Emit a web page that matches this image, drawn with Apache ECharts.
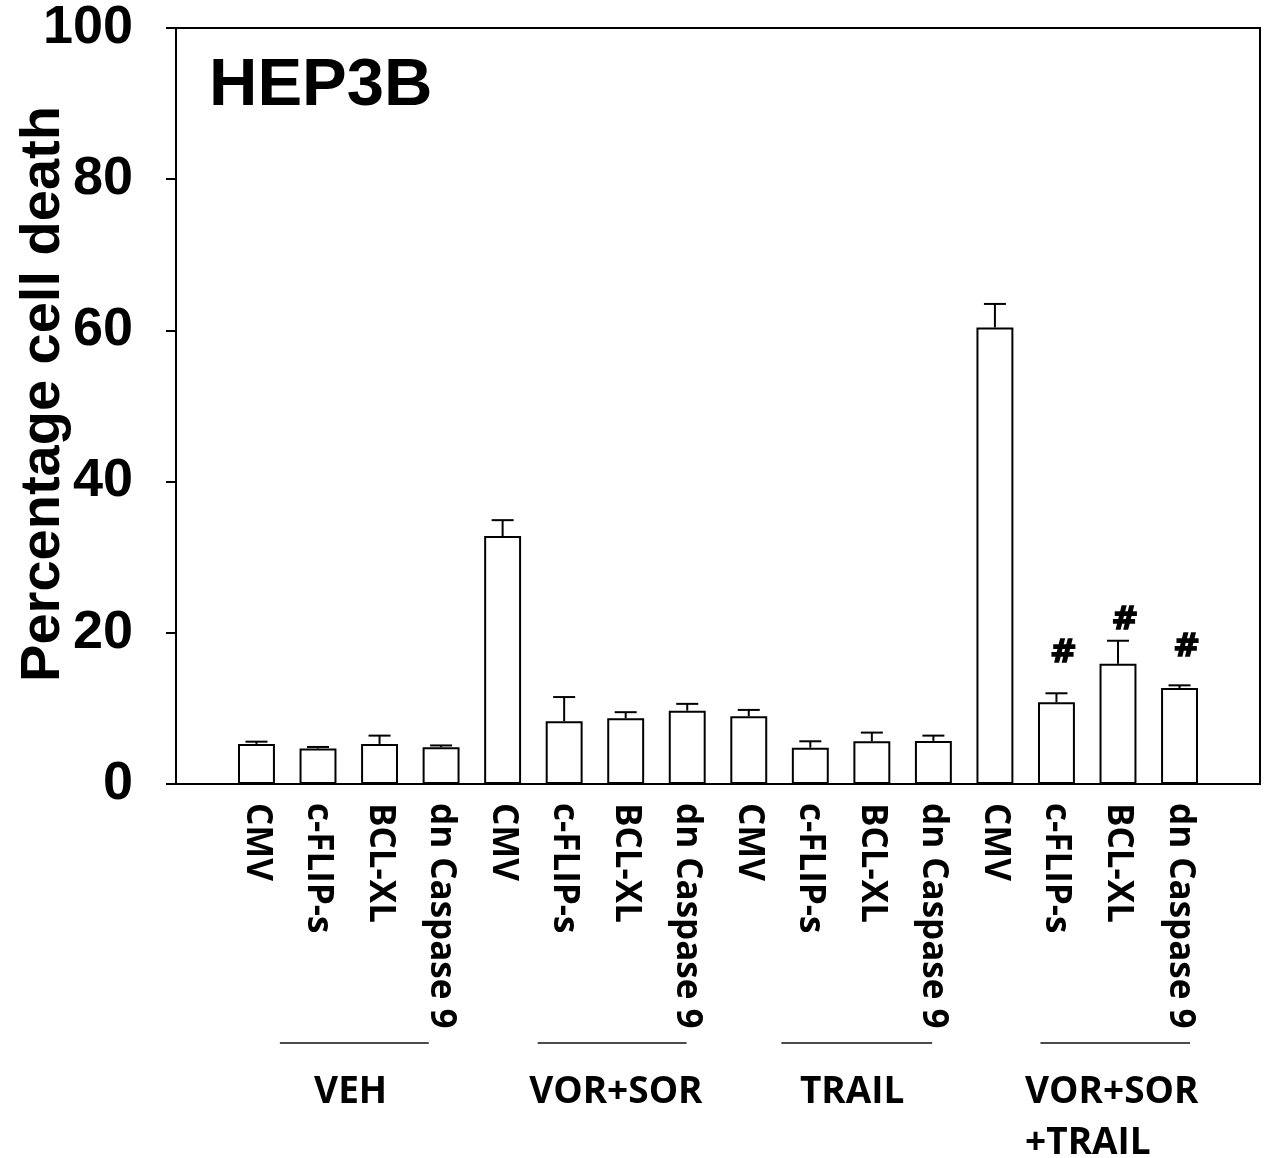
<!DOCTYPE html>
<html>
<head>
<meta charset="utf-8">
<title>HEP3B cell death</title>
<script src="https://cdn.jsdelivr.net/npm/echarts@6/dist/echarts.min.js"></script>
<style>
  html, body { margin: 0; padding: 0; background: #fff; }
  #chart { width: 1274px; height: 1158px; }
</style>
</head>
<body>
<div id="chart"></div>
<script>
// Constructs expressed in each treatment group
const categories = [
  'CMV', 'c-FLIP-s', 'BCL-XL', 'dn Caspase 9',
  'CMV', 'c-FLIP-s', 'BCL-XL', 'dn Caspase 9',
  'CMV', 'c-FLIP-s', 'BCL-XL', 'dn Caspase 9',
  'CMV', 'c-FLIP-s', 'BCL-XL', 'dn Caspase 9'
];
// Mean percentage of cell death
const meanDeath = [5.3, 4.7, 5.3, 4.85, 32.8, 8.3, 8.7, 9.7, 8.95, 4.8, 5.65, 5.7, 60.4, 10.8, 15.9, 12.7];
// Upper error (SEM)
const errDeath = [0.3, 0.2, 1.1, 0.25, 2.1, 3.2, 0.8, 0.9, 0.85, 0.85, 1.15, 0.7, 3.1, 1.2, 3.05, 0.35];
// Treatment groups
const groupNames = ['VEH', 'VOR+SOR', 'TRAIL', 'VOR+SOR\n+TRAIL'];
// Significance markers (#): bar index and height of the symbol
const sigIndex = [13, 14, 15];
const sigLevel = [17.3, 21.6, 18.05];
// Y axis ticks
const yTicks = [0, 20, 40, 60, 80, 100];

const chart = echarts.init(document.getElementById('chart'), null, { renderer: 'canvas' });

const option = {
  animation: false,
  backgroundColor: '#ffffff',
  title: {
    text: 'HEP3B',
    left: 204,
    top: 48,
    textStyle: { fontFamily: 'Liberation Sans', fontWeight: 'bold', fontSize: 67, color: '#000' }
  },
  grid: [
    { left: 225.7, right: 63.7, top: 28, bottom: 374, outerBoundsMode: 'none', containLabel: false },
    { left: 176, right: 14, top: 28, bottom: 374, outerBoundsMode: 'none', containLabel: false,
      show: true, borderColor: '#000', borderWidth: 2, backgroundColor: 'transparent' }
  ],
  xAxis: [
    {
      gridIndex: 0,
      type: 'category',
      data: categories,
      axisLine: { show: false },
      axisTick: { show: false },
      axisLabel: {
        interval: 0,
        rotate: -90,
        margin: 19,
        fontFamily: 'Open Sans',
        fontWeight: 'bold',
        fontSize: 35,
        color: '#000'
      }
    },
    { gridIndex: 1, type: 'value', min: 0, max: 1, show: false }
  ],
  yAxis: [
    { gridIndex: 0, type: 'value', min: 0, max: 100, show: false },
    {
      gridIndex: 1,
      type: 'value',
      min: yTicks[0],
      max: yTicks[yTicks.length - 1],
      interval: 20,
      name: 'Percentage cell death',
      nameLocation: 'middle',
      nameRotate: 90,
      nameGap: 104,
      nameMoveOverlap: false,
      nameTextStyle: {
        fontFamily: 'Liberation Sans', fontWeight: 'bold', fontSize: 56, color: '#000',
        padding: [0, 0, 0, 24]
      },
      axisLine: { show: true, lineStyle: { color: '#000', width: 2 } },
      axisTick: { show: true, inside: false, length: 10, lineStyle: { color: '#000', width: 2 } },
      axisLabel: { margin: 43, fontFamily: 'Liberation Sans', fontWeight: 'bold', fontSize: 54, color: '#000' },
      splitLine: { show: false }
    }
  ],
  series: [
    {
      type: 'bar',
      xAxisIndex: 0,
      yAxisIndex: 0,
      data: meanDeath,
      barWidth: '60%',
      itemStyle: { color: '#fff', borderColor: '#000', borderWidth: 2 },
      z: 2
    },
    {
      type: 'custom',
      xAxisIndex: 0,
      yAxisIndex: 0,
      z: 3,
      data: meanDeath.map((m, i) => [i, m, errDeath[i]]),
      renderItem: function (params, api) {
        const i = api.value(0);
        const top = api.coord([i, api.value(1)]);
        const cap = api.coord([i, api.value(1) + api.value(2)]);
        const half = 11;
        const style = { stroke: '#000', lineWidth: 2 };
        return {
          type: 'group',
          children: [
            { type: 'line', shape: { x1: top[0], y1: top[1], x2: cap[0], y2: cap[1] }, style: style },
            { type: 'line', shape: { x1: cap[0] - half, y1: cap[1], x2: cap[0] + half, y2: cap[1] }, style: style }
          ]
        };
      }
    },
    {
      type: 'custom',
      xAxisIndex: 0,
      yAxisIndex: 0,
      z: 4,
      data: sigIndex.map((idx, k) => [idx, sigLevel[k]]),
      renderItem: function (params, api) {
        const p = api.coord([api.value(0), api.value(1)]);
        return {
          type: 'text',
          x: p[0] + 7,
          y: p[1],
          style: {
            text: '#',
            align: 'center',
            verticalAlign: 'middle',
            fontFamily: 'DejaVu Sans',
            fontWeight: 'bold',
            fontSize: 32,
            fill: '#000',
            stroke: '#000',
            lineWidth: 1.5
          }
        };
      }
    }
  ]
};

chart.setOption(option);

// Group brackets and names under the category labels
const px0 = chart.convertToPixel({ xAxisIndex: 0 }, 0);
const px1 = chart.convertToPixel({ xAxisIndex: 0 }, 1);
const step = px1 - px0;
const yBase = chart.convertToPixel({ yAxisIndex: 0 }, 0);
const groupSpans = [[0.38, 2.80], [4.57, 6.99], [8.53, 10.98], [12.74, 15.17]];
const groupText = [1.53, 5.84, 9.68, 12.49];
const graphics = [];
groupNames.forEach((name, g) => {
  const [a, b] = groupSpans[g];
  graphics.push({
    type: 'line',
    shape: { x1: px0 + a * step, y1: yBase + 259, x2: px0 + b * step, y2: yBase + 259 },
    style: { stroke: '#111', lineWidth: 1.5 }
  });
  const multi = name.indexOf('\n') >= 0;
  graphics.push({
    type: 'text',
    x: px0 + groupText[g] * step,
    y: yBase + 283,
    style: {
      text: name,
      align: multi ? 'left' : 'center',
      verticalAlign: 'top',
      fontFamily: 'Open Sans',
      fontWeight: 'bold',
      fontSize: 37,
      lineHeight: 51,
      fill: '#000'
    }
  });
});
chart.setOption({ graphic: graphics });
</script>
</body>
</html>
